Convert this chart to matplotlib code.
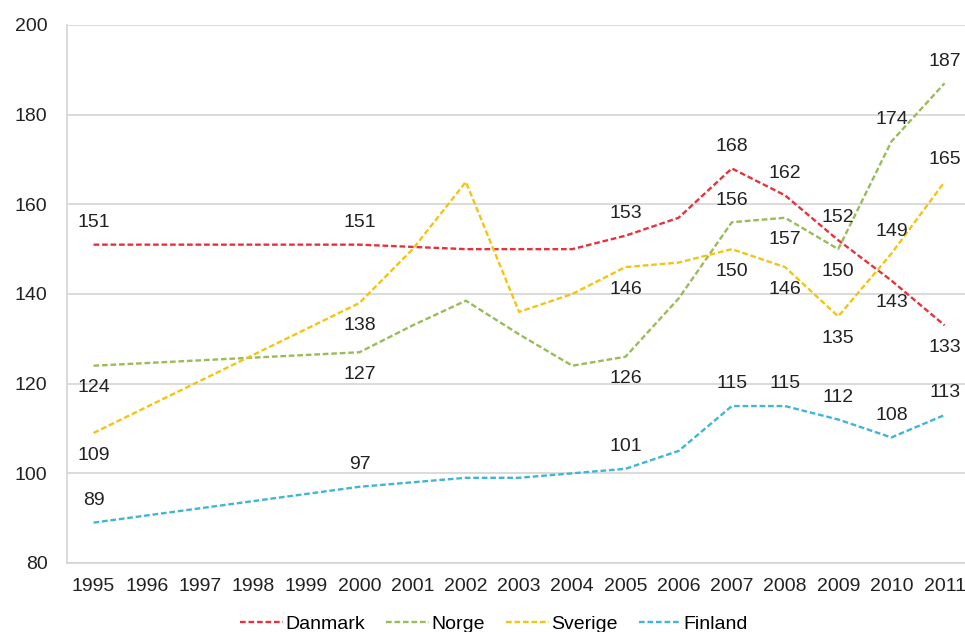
import matplotlib.pyplot as plt

plt.rcParams['font.family'] = ['Liberation Sans', 'DejaVu Sans']

# years with data (1996-1999 not reported)
years = [1995, 2000, 2001, 2002, 2003, 2004, 2005, 2006, 2007, 2008, 2009, 2010, 2011]
danmark = [151, 151, 150.5, 150, 150, 150, 153, 157, 168, 162, 152, 143, 133]
norge = [124, 127, 133, 138.5, 131, 124, 126, 139, 156, 157, 150, 174, 187]
sverige = [109, 138, 150, 165, 136, 140, 146, 147, 150, 146, 135, 149, 165]
finland = [89, 97, 98, 99, 99, 100, 101, 105, 115, 115, 112, 108, 113]

# years that get a value label, and whether the label sits above (+1) or below (-1)
label_years = [1995, 2000, 2005, 2007, 2008, 2009, 2010, 2011]
danmark_side = [1, 1, 1, 1, 1, 1, -1, -1]
norge_side = [-1, -1, -1, 1, -1, -1, 1, 1]
sverige_side = [-1, -1, -1, -1, -1, -1, 1, 1]
finland_side = [1, 1, 1, 1, 1, 1, 1, 1]

tick_years = list(range(1995, 2012))

series = [
    ('Danmark', danmark, danmark_side, '#e6323e'),
    ('Norge', norge, norge_side, '#9bbb59'),
    ('Sverige', sverige, sverige_side, '#f2c511'),
    ('Finland', finland, finland_side, '#3fb6d3'),
]

fs = 14

fig = plt.figure(figsize=(9.65, 6.32), dpi=100)
ax = fig.add_axes([0.0694, 0.1092, 0.937, 0.8513])

for name, vals, sides, color in series:
    ax.plot(years, vals, color=color, lw=1.7, dashes=(2.4, 1.2), label=name)
    for yr, side in zip(label_years, sides):
        v = vals[years.index(yr)]
        ax.annotate(f'{v:.0f}', (yr, v), xytext=(0, 16 * side), textcoords='offset points',
                    ha='center', va='center', fontsize=fs, color='#222222')

ax.set_xlim(1994.5, 2011.5)
ax.set_ylim(80, 200)
ax.set_yticks(range(80, 201, 20))
ax.set_xticks(tick_years)
ax.set_xticklabels([str(y) for y in tick_years])
ax.tick_params(axis='both', length=0, labelsize=fs, colors='#222222')
ax.tick_params(axis='y', pad=14)
ax.tick_params(axis='x', pad=11)
ax.yaxis.grid(True, color='#d4d4d4', lw=1.2)
ax.set_axisbelow(True)
for s in ['top', 'right']:
    ax.spines[s].set_visible(False)
ax.spines['left'].set_color('#d4d4d4')
ax.spines['bottom'].set_color('#d4d4d4')
ax.spines['left'].set_linewidth(1.2)
ax.spines['bottom'].set_linewidth(1.2)

fig.legend(loc='center', bbox_to_anchor=(0.512, 0.012), ncol=4, frameon=False,
           fontsize=fs, handlelength=2.2, handletextpad=0.1, columnspacing=1.1)

fig.savefig('out.png', dpi=100)
